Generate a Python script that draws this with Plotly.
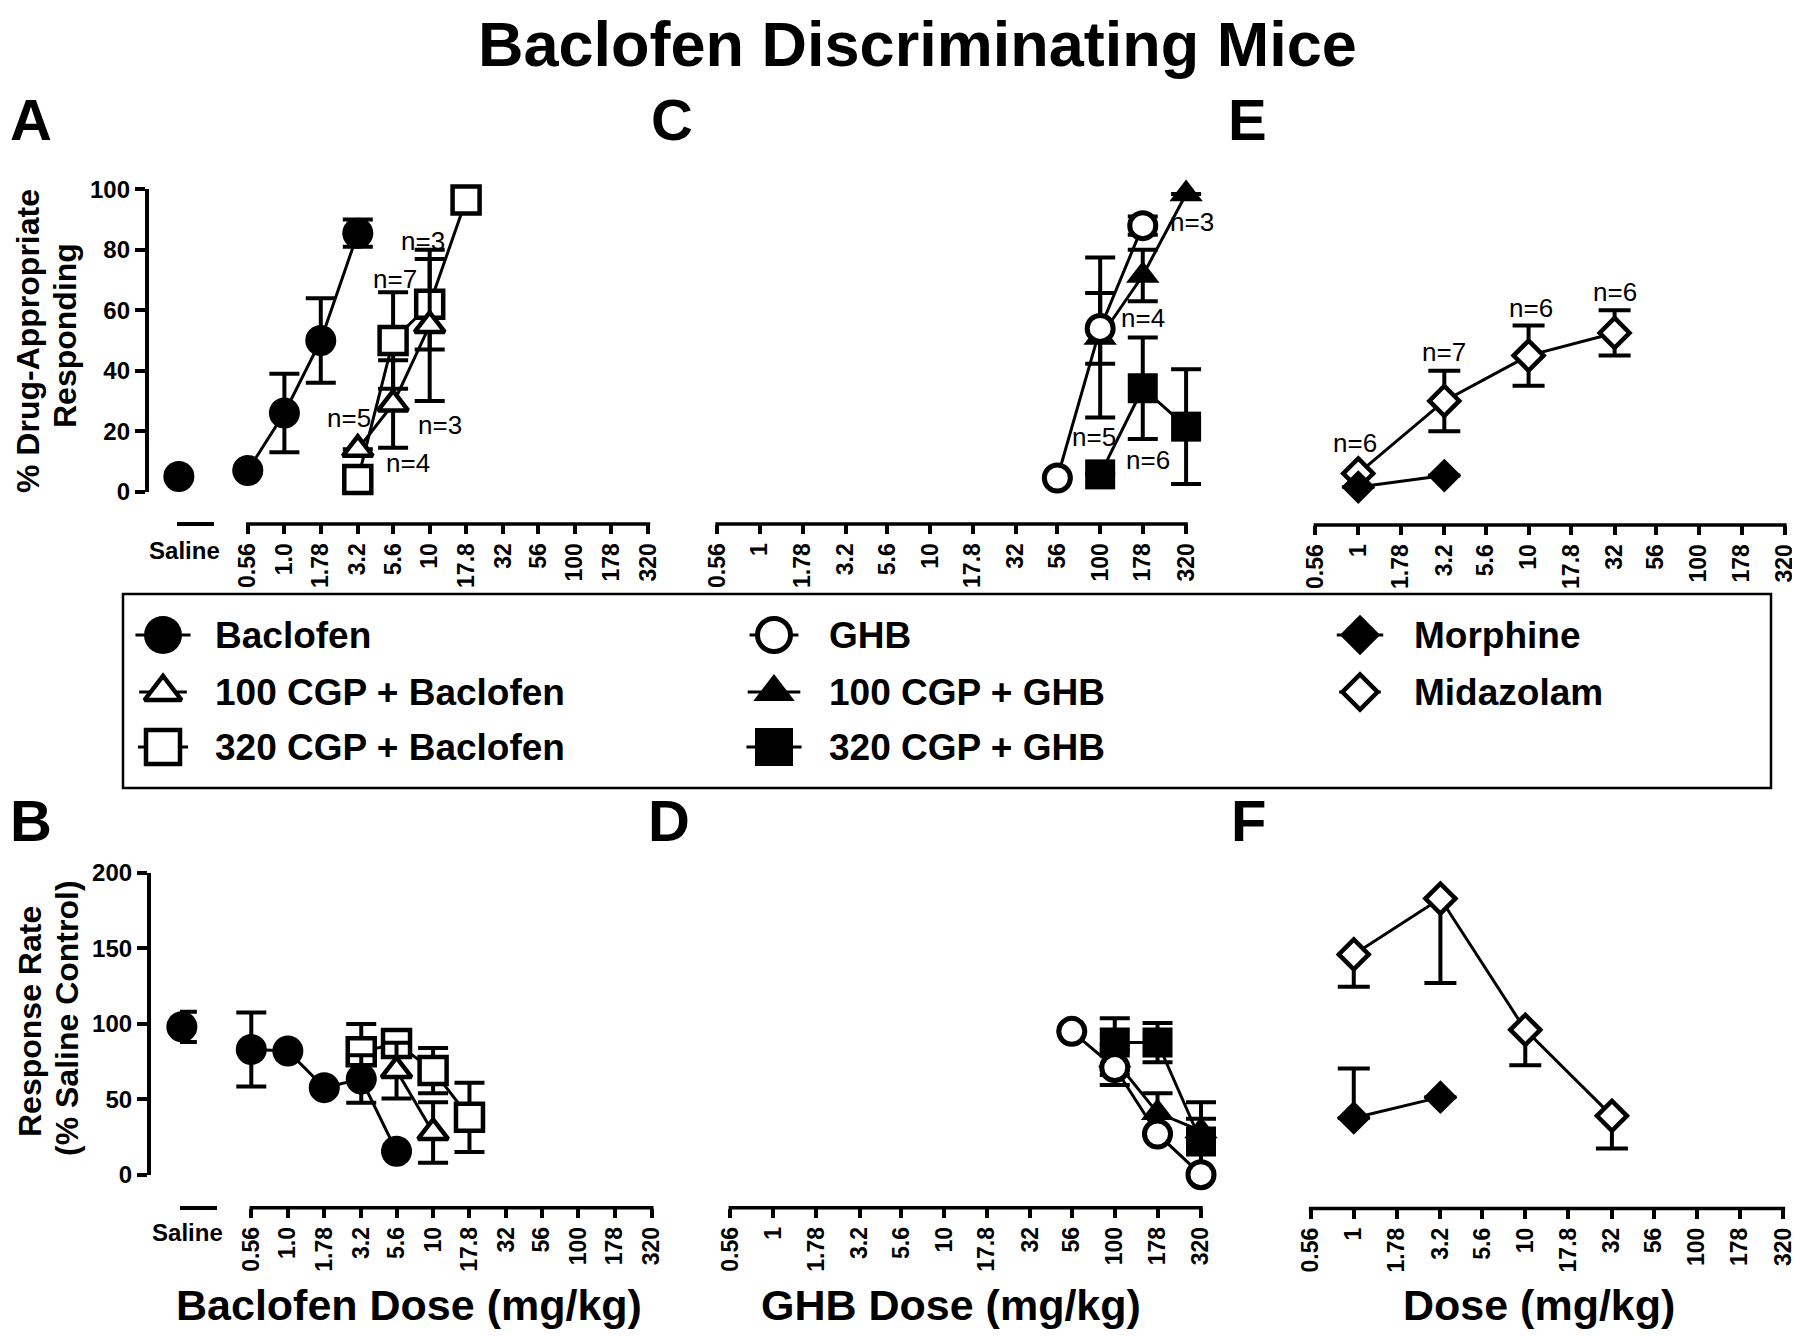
import math
import plotly.graph_objects as go

W, H = 1800, 1336
OFF = 8  # page body margin of the html page, compensated here
FONT = "Liberation Sans, Arial, Helvetica, sans-serif"

# ---------------- data ----------------
DOSE_TICKS = [0.56, 1, 1.78, 3.2, 5.6, 10, 17.8, 32, 56, 100, 178, 320]
TICK_TEXT_BAC = ["0.56", "1.0", "1.78", "3.2", "5.6", "10", "17.8", "32", "56", "100", "178", "320"]
TICK_TEXT = ["0.56", "1", "1.78", "3.2", "5.6", "10", "17.8", "32", "56", "100", "178", "320"]

# Panel A - % drug-appropriate responding
saline_dar = [5]
baclofen_dose = [0.56, 1.0, 1.78, 3.2]
baclofen_dar = [7, 26, 50, 85.5]
baclofen_dar_err = [0, 13, 14, 4.5]
cgp100_bac_dose = [3.2, 5.6, 10]
cgp100_bac_dar = [14, 29, 55]
cgp100_bac_dar_err = [0, 14.5, 25]
cgp320_bac_dose = [3.2, 5.6, 10, 17.8]
cgp320_bac_dar = [4, 50, 62, 96.5]
cgp320_bac_dar_err = [0, 16, 15, 0]
A_n_dose = [17.8, 10, 5.6, 3.2, 10, 5.6, 3.2]
A_n_y = [106, 83, 70.2, 24.3, 22, 9.4, -6.6]
A_n_shift = [0, -7, 2, -9, 10, 15, 8]
A_n_text = ["n=2", "n=3", "n=7", "n=5", "n=3", "n=4", "n=1"]

# Panel B - response rate
saline_rate = [98]
saline_rate_err = [10]
baclofen_rate_dose = [0.56, 1.0, 1.78, 3.2, 5.6]
baclofen_rate = [83, 82, 57.7, 63.4, 15.5]
baclofen_rate_err = [24.5, 0, 0, 15.7, 0]
cgp100_bac_rate_dose = [5.6, 10]
cgp100_bac_rate = [69, 28]
cgp100_bac_rate_err = [18.5, 20]
cgp320_bac_rate_dose = [3.2, 5.6, 10, 17.8]
cgp320_bac_rate = [81.4, 87, 69, 38]
cgp320_bac_rate_err = [18.5, 0, 15, 23]

# Panel C - % drug-appropriate responding (GHB)
ghb_dose = [56, 100, 178]
ghb_dar = [4.5, 54, 88]
ghb_dar_err = [0, 11.7, 3]
cgp100_ghb_dose = [100, 178, 320]
cgp100_ghb_dar = [51, 71.5, 98.5]
cgp100_ghb_dar_err = [26.5, 8.5, 0]
cgp320_ghb_dose = [100, 178, 320]
cgp320_ghb_dar = [5.7, 34.2, 21.5]
cgp320_ghb_dar_err = [0, 16.8, 19]
C_n_dose = [320, 178, 100, 178, 100, 320]
C_n_y = [89.3, 57.3, 18.2, 10.5, -4.4, -5]
C_n_shift = [6, 0, -6, 5, -5, 0]
C_n_text = ["n=3", "n=4", "n=5", "n=6", "n=4", "n=6"]

# Panel D - response rate (GHB)
ghb_rate_dose = [56, 100, 178, 320]
ghb_rate = [95, 71, 27, 0]
ghb_rate_err = [0, 11.5, 0, 0]
cgp100_ghb_rate_dose = [100, 178, 320]
cgp100_ghb_rate = [76, 41, 29]
cgp100_ghb_rate_err = [10, 13, 8]
cgp320_ghb_rate_dose = [100, 178, 320]
cgp320_ghb_rate = [87.6, 87.6, 22]
cgp320_ghb_rate_err = [16, 13, 26]

# Panel E - % drug-appropriate responding (other drugs)
midazolam_dose = [1, 3.2, 10, 32]
midazolam_dar = [6, 30, 45, 52.5]
midazolam_dar_err = [0, 10, 10, 7.5]
morphine_dose = [1, 3.2]
morphine_dar = [1.5, 5.3]
E_n_dose = [32, 10, 3.2, 1, 1, 3.2]
E_n_y = [66.1, 60.6, 46.3, 16, -5.5, -3.8]
E_n_shift = [0, 2, 0, -3, 41, 11]
E_n_text = ["n=6", "n=6", "n=7", "n=6", "n=4", "n=6"]

# Panel F - response rate (other drugs)
midazolam_rate = [146, 183, 96, 39]
midazolam_rate_err_down = [21.5, 56, 23.5, 21.7]
morphine_rate = [37.6, 51.4]
morphine_rate_err_up = [32.7, 0]

LEGEND_COLS = [["Baclofen", "100 CGP + Baclofen", "320 CGP + Baclofen"],
               ["GHB", "100 CGP + GHB", "320 CGP + GHB"],
               ["Morphine", "Midazolam"]]

# ---------------- styles ----------------
STY = {
    "Baclofen": dict(symbol="circle", fill="black", size=31, lw=0, leg=38, leglw=0),
    "100 CGP + Baclofen": dict(symbol="triangle-up", fill="white", size=26, lw=4.5, leg=32, leglw=4.5),
    "320 CGP + Baclofen": dict(symbol="square", fill="white", size=27, lw=4.5, leg=34, leglw=4.5),
    "GHB": dict(symbol="circle", fill="white", size=26, lw=5, leg=33, leglw=5),
    "100 CGP + GHB": dict(symbol="triangle-up", fill="black", size=29, lw=0, leg=36, leglw=0),
    "320 CGP + GHB": dict(symbol="square", fill="black", size=30, lw=0, leg=38, leglw=0),
    "Morphine": dict(symbol="diamond", fill="black", size=26, lw=0, leg=31, leglw=0),
    "Midazolam": dict(symbol="diamond", fill="white", size=23, lw=4.5, leg=27, leglw=4.5),
}


def pxx(p):
    return (p - OFF) / W


def pxy(p):
    return 1 - (p - OFF) / H


fig = go.Figure()


def add_line(x, y, xa, ya):
    fig.add_trace(go.Scatter(x=x, y=y, mode="lines", line=dict(color="black", width=3),
                             xaxis=xa, yaxis=ya, showlegend=False, hoverinfo="skip"))


def add_pts(name, x, y, xa, ya, up=None, down=None, cap=15):
    st = STY[name]
    n = len(y)
    up = up if up is not None else [0] * n
    down = down if down is not None else up
    fig.add_trace(go.Scatter(
        x=x, y=y, mode="markers", xaxis=xa, yaxis=ya, name=name,
        marker=dict(symbol=st["symbol"], size=st["size"], color=st["fill"],
                    line=dict(color="black", width=st["lw"])),
        error_y=dict(type="data", symmetric=False, array=up, arrayminus=down,
                     color="black", thickness=4, width=cap),
        cliponaxis=False, showlegend=False, hoverinfo="skip"))


# ---- Panel A (x, x2 / y)
add_line(cgp320_bac_dose, cgp320_bac_dar, "x", "y")
add_line(cgp100_bac_dose, cgp100_bac_dar, "x", "y")
add_line(baclofen_dose, baclofen_dar, "x", "y")
add_pts("320 CGP + Baclofen", cgp320_bac_dose, cgp320_bac_dar, "x", "y", cgp320_bac_dar_err)
add_pts("100 CGP + Baclofen", cgp100_bac_dose, cgp100_bac_dar, "x", "y", cgp100_bac_dar_err)
add_pts("Baclofen", baclofen_dose, baclofen_dar, "x", "y", baclofen_dar_err)
add_pts("Baclofen", [0.05], saline_dar, "x2", "y")

# ---- Panel C (x3 / y3)
add_line(cgp320_ghb_dose, cgp320_ghb_dar, "x3", "y3")
add_line(cgp100_ghb_dose, cgp100_ghb_dar, "x3", "y3")
add_line(ghb_dose, ghb_dar, "x3", "y3")
add_pts("320 CGP + GHB", cgp320_ghb_dose, cgp320_ghb_dar, "x3", "y3", cgp320_ghb_dar_err)
add_pts("100 CGP + GHB", cgp100_ghb_dose, cgp100_ghb_dar, "x3", "y3", cgp100_ghb_dar_err)
add_pts("GHB", ghb_dose, ghb_dar, "x3", "y3", ghb_dar_err)

# ---- Panel E (x4 / y4)
add_line(midazolam_dose, midazolam_dar, "x4", "y4")
add_line(morphine_dose, morphine_dar, "x4", "y4")
add_pts("Midazolam", midazolam_dose, midazolam_dar, "x4", "y4", midazolam_dar_err, cap=16)
add_pts("Morphine", morphine_dose, morphine_dar, "x4", "y4", cap=16)

# ---- Panel B (x5, x6 / y5)
add_line(cgp320_bac_rate_dose, cgp320_bac_rate, "x5", "y5")
add_line(cgp100_bac_rate_dose, cgp100_bac_rate, "x5", "y5")
add_line(baclofen_rate_dose, baclofen_rate, "x5", "y5")
add_pts("320 CGP + Baclofen", cgp320_bac_rate_dose, cgp320_bac_rate, "x5", "y5", cgp320_bac_rate_err)
add_pts("100 CGP + Baclofen", cgp100_bac_rate_dose, cgp100_bac_rate, "x5", "y5", cgp100_bac_rate_err)
add_pts("Baclofen", baclofen_rate_dose, baclofen_rate, "x5", "y5", baclofen_rate_err)
add_pts("Baclofen", [0.05], saline_rate, "x6", "y5", saline_rate_err)

# ---- Panel D (x7 / y7)
add_line(cgp320_ghb_rate_dose, cgp320_ghb_rate, "x7", "y7")
add_line(cgp100_ghb_rate_dose, cgp100_ghb_rate, "x7", "y7")
add_line(ghb_rate_dose, ghb_rate, "x7", "y7")
add_pts("320 CGP + GHB", cgp320_ghb_rate_dose, cgp320_ghb_rate, "x7", "y7", cgp320_ghb_rate_err)
add_pts("100 CGP + GHB", cgp100_ghb_rate_dose, cgp100_ghb_rate, "x7", "y7", cgp100_ghb_rate_err)
add_pts("GHB", ghb_rate_dose, ghb_rate, "x7", "y7", ghb_rate_err)

# ---- Panel F (x8 / y8)
add_line(midazolam_dose, midazolam_rate, "x8", "y8")
add_line(morphine_dose, morphine_rate, "x8", "y8")
add_pts("Midazolam", midazolam_dose, midazolam_rate, "x8", "y8",
        [0] * len(midazolam_rate), midazolam_rate_err_down, cap=16)
add_pts("Morphine", morphine_dose, morphine_rate, "x8", "y8",
        morphine_rate_err_up, [0] * len(morphine_rate), cap=16)

# ---- Legend (drawn in a pixel-space overlay axis x9 / y9)
LEG_MX = [163, 774, 1360]
LEG_TX = [213, 827, 1412]
LEG_RY = [635, 692, 747]
annotations = []
for ci, col in enumerate(LEGEND_COLS):
    for ri, name in enumerate(col):
        st = STY[name]
        half = st["leg"] * 0.62 + 4
        fig.add_trace(go.Scatter(x=[LEG_MX[ci] - half, LEG_MX[ci] + half], y=[LEG_RY[ri], LEG_RY[ri]],
                                 mode="lines", line=dict(color="black", width=3),
                                 xaxis="x9", yaxis="y9", showlegend=False, hoverinfo="skip"))
        fig.add_trace(go.Scatter(x=[LEG_MX[ci]], y=[LEG_RY[ri]], mode="markers",
                                 marker=dict(symbol=st["symbol"], size=st["leg"], color=st["fill"],
                                             line=dict(color="black", width=st["leglw"])),
                                 xaxis="x9", yaxis="y9", cliponaxis=False,
                                 showlegend=False, hoverinfo="skip"))
        annotations.append(dict(x=pxx(LEG_TX[ci]), y=pxy(LEG_RY[ri]), xref="paper", yref="paper",
                                text="<b>%s</b>" % name, showarrow=False, xanchor="left",
                                yanchor="middle", font=dict(family=FONT, size=37, color="black")))

# ---------------- axes ----------------
AX_LW = 3.5
BOLD = dict(family=FONT, color="black", weight="bold")
PAD = 30  # px of clip padding beyond the first/last dose tick
LOG0, LOG1 = math.log10(0.56), math.log10(320)
shapes = []


def dose_axis(x0, x1, ypos, ticktext):
    ppd = (x1 - x0) / (LOG1 - LOG0)
    padl = min(PAD, x0 - OFF - 1)
    padr = min(PAD, W + OFF - 1 - x1)
    shapes.append(dict(type="line", xref="paper", yref="paper", x0=pxx(x0 - AX_LW / 2),
                       x1=pxx(x1 + AX_LW / 2), y0=pxy(ypos), y1=pxy(ypos),
                       line=dict(color="black", width=AX_LW)))
    return dict(type="log", domain=[pxx(x0 - padl), pxx(x1 + padr)],
                range=[LOG0 - padl / ppd, LOG1 + padr / ppd],
                anchor="free", position=pxy(ypos), tickvals=DOSE_TICKS, ticktext=ticktext,
                tickangle=-90, showline=False,
                ticks="outside", ticklen=9, tickwidth=AX_LW, tickcolor="black",
                tickfont=dict(size=23, **BOLD), showgrid=False, zeroline=False, automargin=False)


def saline_axis(x0, x1, ypos, lab_gap):
    return dict(domain=[pxx(x0), pxx(x1)], range=[0, 1], anchor="free", position=pxy(ypos),
                tickvals=[0.2], ticktext=["Saline"], tickangle=0, showline=True,
                linecolor="black", linewidth=AX_LW, ticks="outside", ticklen=lab_gap,
                tickcolor="rgba(0,0,0,0)", tickfont=dict(size=24, **BOLD),
                showgrid=False, zeroline=False, automargin=False)


def value_axis(ybot, ytop, rng, step, xpos, visible=True):
    return dict(domain=[pxy(ybot), pxy(ytop)], range=rng, anchor="free", position=pxx(xpos),
                tickvals=list(range(rng[0], rng[1] + 1, step)), showline=True, linecolor="black",
                linewidth=AX_LW, ticks="outside", ticklen=10, tickwidth=AX_LW, tickcolor="black",
                tickfont=dict(size=24, **BOLD), showgrid=False, zeroline=False, visible=visible,
                automargin=False)


TOP_Y0, TOP_Y1 = 491.6, 189.4
BOT_Y0, BOT_Y1 = 1174.7, 872.9

layout_axes = dict(
    xaxis=dose_axis(247.8, 648.4, 524, TICK_TEXT_BAC),
    xaxis2=saline_axis(177, 214, 524, 4),
    yaxis=value_axis(TOP_Y0, TOP_Y1, [0, 100], 20, 146.6),
    xaxis3=dose_axis(717.1, 1186.1, 524, TICK_TEXT),
    yaxis3=value_axis(TOP_Y0, TOP_Y1, [0, 100], 20, 700, visible=False),
    xaxis4=dose_axis(1315.4, 1784.9, 525, TICK_TEXT),
    yaxis4=value_axis(TOP_Y0, TOP_Y1, [0, 100], 20, 1300, visible=False),
    xaxis5=dose_axis(251.3, 651.7, 1207.8, TICK_TEXT_BAC),
    xaxis6=saline_axis(180, 217, 1207.8, 3),
    yaxis5=value_axis(BOT_Y0, BOT_Y1, [0, 200], 50, 148.7),
    xaxis7=dose_axis(730.4, 1201, 1207.8, TICK_TEXT),
    yaxis7=value_axis(BOT_Y0, BOT_Y1, [0, 200], 50, 715, visible=False),
    xaxis8=dose_axis(1310.6, 1783.4, 1208.5, TICK_TEXT),
    yaxis8=value_axis(BOT_Y0, BOT_Y1, [0, 200], 50, 1295, visible=False),
    xaxis9=dict(domain=[0, 1], range=[OFF, W + OFF], visible=False, anchor="y9", automargin=False),
    yaxis9=dict(domain=[0, 1], range=[H + OFF, OFF], visible=False, anchor="x9", automargin=False),
)

# ---------------- annotations ----------------
def n_labels(xref, yref, doses, ys, shifts, texts):
    out = []
    for d, yv, s, t in zip(doses, ys, shifts, texts):
        out.append(dict(x=math.log10(d), y=yv, xref=xref, yref=yref, text=t, showarrow=False,
                        xshift=s, xanchor="center", yanchor="middle",
                        font=dict(family=FONT, size=26, color="black")))
    return out


annotations += n_labels("x", "y", A_n_dose, A_n_y, A_n_shift, A_n_text)
annotations += n_labels("x3", "y3", C_n_dose, C_n_y, C_n_shift, C_n_text)
annotations += n_labels("x4", "y4", E_n_dose, E_n_y, E_n_shift, E_n_text)


def ptext(x, y, text, size, angle=0):
    return dict(x=pxx(x), y=pxy(y), xref="paper", yref="paper", text="<b>%s</b>" % text,
                showarrow=False, xanchor="center", yanchor="middle", textangle=angle,
                font=dict(family=FONT, size=size, color="black"))


annotations += [
    ptext(917, 44, "Baclofen Discriminating Mice", 63),
    ptext(31, 119, "A", 58), ptext(672, 119, "C", 58), ptext(1247, 119, "E", 58),
    ptext(31, 821, "B", 58), ptext(669, 821, "D", 58), ptext(1248, 821, "F", 58),
    ptext(28, 341, "% Drug-Appropriate", 32, -90), ptext(65, 336, "Responding", 32, -90),
    ptext(30, 1022, "Response Rate", 32, -90), ptext(67, 1018, "(% Saline Control)", 32, -90),
    ptext(409, 1305, "Baclofen Dose (mg/kg)", 43),
    ptext(951, 1305, "GHB Dose (mg/kg)", 43),
    ptext(1539, 1305, "Dose (mg/kg)", 43),
]

shapes.append(dict(type="rect", xref="paper", yref="paper", x0=pxx(123), x1=pxx(1771),
                   y0=pxy(788), y1=pxy(594), line=dict(color="black", width=2.5)))

fig.update_layout(
    width=W, height=H, autosize=False,
    margin=dict(l=0, r=0, t=0, b=0, pad=0, autoexpand=False),
    paper_bgcolor="white", plot_bgcolor="rgba(0,0,0,0)",
    font=dict(family=FONT, color="black"),
    showlegend=False,
    annotations=annotations, shapes=shapes,
    **layout_axes,
)

fig.write_html("out.html")
